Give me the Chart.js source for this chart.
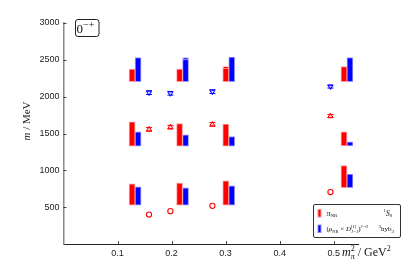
<!DOCTYPE html>
<html>
<head>
<meta charset="utf-8">
<script src="https://cdn.jsdelivr.net/npm/chart.js@4.4.1/dist/chart.umd.min.js"></script>
<style>
  html, body { margin: 0; padding: 0; background: #fff; }
  #wrap { width: 415px; height: 277px; }
</style>
</head>
<body>
<div id="wrap"><canvas id="chart" width="415" height="277"></canvas></div>
<script>
// x position (m_pi^2 / GeV^2) of the red bar of each column, blue sits next to it
const barX = [0.1269, 0.2148, 0.3003, 0.519];
const barShift = 0.0111;

// bases of the three levels in each column (MeV)
const baseLow = [528, 528, 528, 764];
const baseMid = [1327, 1327, 1327, 1330];
const baseTop = [2205, 2205, 2205, 2205];

// bar tops (MeV)
const redLow = [818, 828, 859, 1064];
const redMid = [1660, 1636, 1627, 1523];
const redTop = [2373, 2373, 2396, 2410];
const blueLow = [777, 764, 791, 950];
const blueMid = [1523, 1482, 1459, 1387];
const blueTop = [2532, 2514, 2536, 2532];
const redTopErr = [0, 0, 15, 0];
const blueTopErr = [0, 18, 0, 0];

// markers
const markX = [0.1583, 0.1978, 0.2756, 0.494];
const circleM = [400, 446, 518, 705];
const upM = [1555, 1586, 1623, 1736];
const upErr = [25, 25, 25, 20];
const downM = [2055, 2046, 2069, 2137];
const downErr = [25, 25, 25, 20];

const SERIF = '"Liberation Serif", "DejaVu Serif", serif';
const SANS = '"Liberation Sans", Arial, sans-serif';

function barPoints(xs, shift, bases, tops) {
  const pts = [];
  bases.forEach((b, k) => {
    xs.forEach((x, i) => pts.push({ x: x + shift, y: [b[i], tops[k][i]] }));
  });
  return pts;
}

const zeros = [0, 0, 0, 0];
const redData = barPoints(barX, 0, [baseLow, baseMid, baseTop], [redLow, redMid, redTop]);
const blueData = barPoints(barX, barShift, [baseLow, baseMid, baseTop], [blueLow, blueMid, blueTop]);

function drawRich(ctx, parts, x, y) {
  let cx = x;
  parts.forEach(p => {
    ctx.font = p.font;
    ctx.fillText(p.t, cx, y + (p.dy || 0));
    if (!p.hold) cx += ctx.measureText(p.t).width;
  });
  return cx;
}

function richWidth(ctx, parts) {
  let w = 0;
  parts.forEach(p => {
    ctx.font = p.font;
    if (!p.hold) w += ctx.measureText(p.t).width;
  });
  return w;
}

// error caps on markers, light bands on bar tops
const errorPlugin = {
  id: 'errors',
  afterDatasetsDraw(chart) {
    const ctx = chart.ctx;
    const ys = chart.scales.y;
    ctx.save();
    chart.data.datasets.forEach((ds, di) => {
      const meta = chart.getDatasetMeta(di);
      if (ds.errs) {
        ctx.strokeStyle = ds.borderColor;
        ctx.lineWidth = 1;
        meta.data.forEach((pt, i) => {
          const v = ds.data[i].y;
          const y1 = ys.getPixelForValue(v + ds.errs[i]);
          const y2 = ys.getPixelForValue(v - ds.errs[i]);
          ctx.beginPath();
          ctx.moveTo(pt.x - 3, y1); ctx.lineTo(pt.x + 3, y1);
          ctx.moveTo(pt.x - 3, y2); ctx.lineTo(pt.x + 3, y2);
          ctx.stroke();
        });
      }
      if (ds.topErr) {
        meta.data.forEach((bar, i) => {
          const e = ds.topErr[i];
          if (!e) return;
          const top = ds.data[i].y[1];
          const y1 = ys.getPixelForValue(top + e);
          const y2 = ys.getPixelForValue(top - e);
          ctx.fillStyle = ds.bandColor;
          ctx.fillRect(bar.x - bar.width / 2, y1, bar.width, y2 - y1);
          ctx.fillStyle = ds.backgroundColor;
          ctx.fillRect(bar.x - bar.width / 2 + 1, ys.getPixelForValue(top) - 0.5, bar.width - 2, 1);
        });
      }
    });
    ctx.restore();
  }
};

const decorPlugin = {
  id: 'decor',
  afterDraw(chart) {
    const { ctx, chartArea: a, scales: { x, y } } = chart;
    ctx.save();
    // inward ticks
    ctx.strokeStyle = '#444';
    ctx.lineWidth = 1;
    x.ticks.forEach(t => {
      if (t.value <= 0) return;
      const px = Math.round(x.getPixelForValue(t.value)) + 0.5;
      ctx.beginPath(); ctx.moveTo(px, a.bottom); ctx.lineTo(px, a.bottom - 3); ctx.stroke();
    });
    y.ticks.forEach(t => {
      if (t.value <= 0) return;
      const py = Math.round(y.getPixelForValue(t.value)) + 0.5;
      ctx.beginPath(); ctx.moveTo(a.left, py); ctx.lineTo(a.left + 3, py); ctx.stroke();
    });

    ctx.fillStyle = '#111';
    ctx.textBaseline = 'alphabetic';

    // y title
    const yParts = [
      { t: 'm', font: 'italic 11px ' + SERIF },
      { t: ' / MeV', font: '11px ' + SERIF }
    ];
    ctx.save();
    ctx.translate(30, 121);
    ctx.rotate(-Math.PI / 2);
    drawRich(ctx, yParts, -richWidth(ctx, yParts) / 2, 0);
    ctx.restore();

    // x title
    drawRich(ctx, [
      { t: 'm', font: 'italic 12px ' + SERIF },
      { t: '2', font: '8px ' + SERIF, dy: -5, hold: true },
      { t: 'π', font: 'italic 8px ' + SERIF, dy: 3 },
      { t: ' / GeV', font: '12px ' + SERIF },
      { t: '2', font: '8px ' + SERIF, dy: -5 }
    ], 342, 255.5);

    // channel label
    ctx.strokeStyle = '#222';
    ctx.beginPath();
    ctx.roundRect(75.5, 19.5, 23.5, 17, 2.5);
    ctx.stroke();
    drawRich(ctx, [
      { t: '0', font: '13px ' + SERIF },
      { t: '−+', font: '10px ' + SERIF, dy: -5 }
    ], 76.5, 32.5);

    // legend
    ctx.fillStyle = '#fff';
    ctx.fillRect(313.5, 204.5, 87, 33);
    ctx.strokeStyle = '#333';
    ctx.beginPath();
    ctx.roundRect(313.5, 204.5, 87, 33, 1.5);
    ctx.stroke();
    ctx.fillStyle = '#ff9090';
    ctx.fillRect(317.5, 209, 4, 8.5);
    ctx.fillStyle = '#ff0000';
    ctx.fillRect(318.5, 210, 2, 6.5);
    ctx.fillStyle = '#9090ff';
    ctx.fillRect(317.5, 224.5, 4, 8.5);
    ctx.fillStyle = '#0000ff';
    ctx.fillRect(318.5, 225.5, 2, 6.5);

    ctx.fillStyle = '#111';
    drawRich(ctx, [
      { t: 'π', font: 'italic 8px ' + SERIF },
      { t: 'NR', font: '5px ' + SERIF, dy: 1.5 }
    ], 326.5, 215.5);
    drawRich(ctx, [
      { t: '1', font: '5px ' + SERIF, dy: -3.5 },
      { t: 'S', font: 'italic 7.5px ' + SERIF },
      { t: '0', font: '5px ' + SERIF, dy: 1.5 }
    ], 383.5, 215.5);
    drawRich(ctx, [
      { t: '(', font: '7px ' + SERIF },
      { t: 'ρ', font: 'italic 7px ' + SERIF },
      { t: 'NR', font: '4.5px ' + SERIF, dy: 1.5 },
      { t: ' × ', font: '7px ' + SERIF },
      { t: 'D', font: 'italic 7px ' + SERIF },
      { t: '[1]', font: '4.5px ' + SERIF, dy: -3.5, hold: true },
      { t: 'J=1', font: 'italic 4.5px ' + SERIF, dy: 2 },
      { t: ')', font: '7px ' + SERIF },
      { t: 'J=0', font: 'italic 4.5px ' + SERIF, dy: -3.5 }
    ], 326.5, 231);
    drawRich(ctx, [
      { t: '3', font: '5px ' + SERIF, dy: -3.5 },
      { t: 'hyb', font: '7px ' + SERIF },
      { t: '3', font: '5px ' + SERIF, dy: 1.5 }
    ], 378.5, 231);
    ctx.restore();
  }
};

const barDefaults = {
  type: 'bar',
  grouped: false,
  barThickness: 6,
  borderWidth: 1,
  borderSkipped: false
};

new Chart(document.getElementById('chart'), {
  type: 'bar',
  data: {
    datasets: [
      Object.assign({}, barDefaults, {
        label: 'red',
        data: redData,
        backgroundColor: '#ff0000',
        borderColor: '#ff9a9a',
        bandColor: '#ffb0b0',
        topErr: zeros.concat(zeros, redTopErr)
      }),
      Object.assign({}, barDefaults, {
        label: 'blue',
        data: blueData,
        backgroundColor: '#0000ff',
        borderColor: '#9a9aff',
        bandColor: '#b0b0ff',
        topErr: zeros.concat(zeros, blueTopErr)
      }),
      {
        type: 'scatter',
        label: 'circle',
        data: markX.map((x, i) => ({ x, y: circleM[i] })),
        pointStyle: 'circle',
        pointRadius: 2.6,
        borderWidth: 1.1,
        borderColor: '#ff0000',
        backgroundColor: '#ffffff'
      },
      {
        type: 'scatter',
        label: 'up',
        data: markX.map((x, i) => ({ x, y: upM[i] })),
        errs: upErr,
        pointStyle: 'triangle',
        pointRadius: 3,
        borderWidth: 1,
        borderColor: '#ff0000',
        backgroundColor: '#ffc8c8'
      },
      {
        type: 'scatter',
        label: 'down',
        data: markX.map((x, i) => ({ x, y: downM[i] })),
        errs: downErr,
        pointStyle: 'triangle',
        rotation: 180,
        pointRadius: 3,
        borderWidth: 1,
        borderColor: '#0000ff',
        backgroundColor: '#c8c8ff'
      }
    ]
  },
  options: {
    responsive: false,
    animation: false,
    events: [],
    layout: { padding: { left: 0, top: 23, right: 57, bottom: 0 } },
    plugins: {
      legend: { display: false },
      tooltip: { enabled: false }
    },
    scales: {
      x: {
        type: 'linear',
        min: 0,
        max: 0.545,
        offset: false,
        grid: { display: false, drawTicks: false },
        border: { display: true, color: '#222', width: 1 },
        ticks: {
          stepSize: 0.1,
          includeBounds: false,
          autoSkip: false,
          maxRotation: 0,
          padding: 4,
          color: '#222',
          font: { family: SANS, size: 9 },
          callback: v => (v > 0.001 ? (Math.round(v * 10) / 10).toString() : '')
        },
        afterFit: s => { s.height = 33; }
      },
      y: {
        type: 'linear',
        min: 0,
        max: 3000,
        grid: { display: false, drawTicks: false },
        border: { display: true, color: '#8a8a8a', width: 1.5 },
        ticks: {
          stepSize: 500,
          autoSkip: false,
          padding: 4,
          color: '#222',
          font: { family: SANS, size: 9 },
          callback: v => (v > 0 ? v : '')
        },
        afterFit: s => { s.width = 63.5; }
      }
    }
  },
  plugins: [errorPlugin, decorPlugin]
});
</script>
</body>
</html>
